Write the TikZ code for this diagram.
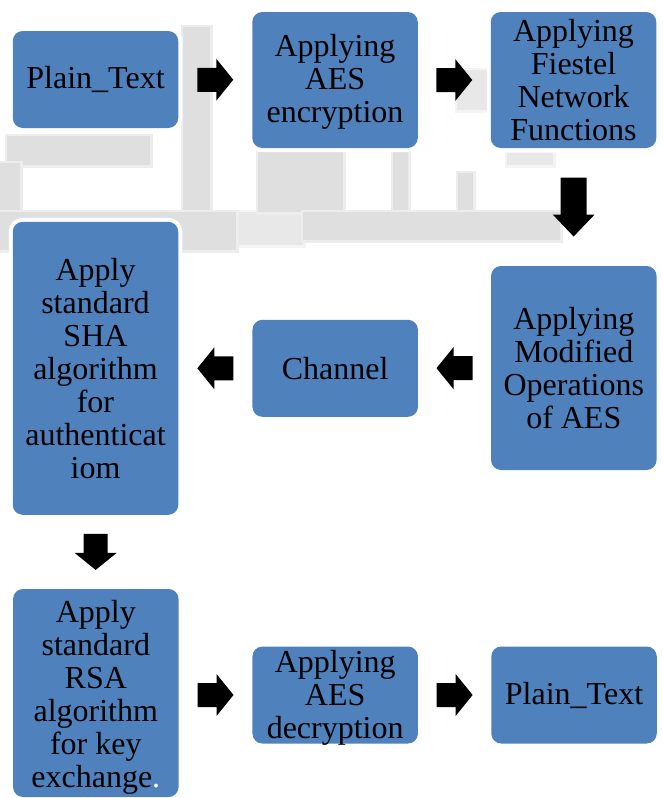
\documentclass[tikz,border=0pt]{standalone}
\usepackage{fontspec}
\setmainfont{Liberation Serif}
\usetikzlibrary{calc}

\definecolor{boxblue}{HTML}{4F81BD}
\definecolor{wmgray}{HTML}{DFDFDF}
\definecolor{wmhalo}{HTML}{EDEDED}
\definecolor{wmlight}{HTML}{E8E8E8}

\tikzset{
  stage/.style={fill=boxblue, rounded corners=10pt, inner sep=0pt,
    preaction={draw=white, line width=8pt}},
  label text/.style={inner sep=0pt, align=center, text=black,
    font=\fontsize{32}{33}\selectfont},
  wm/.style={fill=wmgray, preaction={draw=wmhalo, line width=5pt}},
  wmsoft/.style={fill=wmlight, preaction={draw=wmhalo!60!white, line width=5pt}},
  pics/shortarrow/.style={code={
    \fill[black] (-18,-12) -- (1,-12) -- (1,-21) -- (18,0) -- (1,21)
      -- (1,12) -- (-18,12) -- cycle;}},
  pics/longarrow/.style={code={
    \fill[black] (-29.5,-13) -- (7.5,-13) -- (7.5,-21) -- (29.5,0)
      -- (7.5,21) -- (7.5,13) -- (-29.5,13) -- cycle;}},
}

\begin{document}
\begin{tikzpicture}[x=1pt, y=-1pt]
  \useasboundingbox (0,0) rectangle (663,798);

  % faint watermark lettering behind the flow
  \fill[wmsoft] (457,70) rectangle (490,110);
  \fill[wmsoft] (507,153) rectangle (553,165);
  \fill[wmsoft] (236,212) rectangle (303,245);
  \fill[wm] (183,27) rectangle (210,212);
  \fill[wm] (7,136) rectangle (150,165);
  \fill[wm] (0,163) rectangle (20,250);
  \fill[wm] (0,212) rectangle (236,250);
  \fill[wm] (258,152) rectangle (343,212);
  \fill[wm] (393,152) rectangle (408,212);
  \fill[wm] (458,173) rectangle (473,212);
  \fill[wm] (303,212) rectangle (560,240);

  % process boxes
  \node[stage, minimum width=165.5pt, minimum height=97pt]  (pt1)  at (95.5,79.5)  {};
  \node[stage, minimum width=165.5pt, minimum height=136pt] (enc)  at (335,80)     {};
  \node[stage, minimum width=165.5pt, minimum height=136pt] (fei)  at (573.5,80)   {};
  \node[stage, minimum width=165.5pt, minimum height=204pt] (mod)  at (573.8,368)  {};
  \node[stage, minimum width=165.5pt, minimum height=97pt]  (chan) at (335.2,368.3){};
  \node[stage, minimum width=165.5pt, minimum height=293pt] (sha)  at (95.5,368.3) {};
  \node[stage, minimum width=165.5pt, minimum height=208pt] (rsa)  at (95.8,693)   {};
  \node[stage, minimum width=165.5pt, minimum height=97pt]  (dec)  at (335.2,695)  {};
  \node[stage, minimum width=165.5pt, minimum height=97pt]  (pt2)  at (574,695)    {};

  % box captions
  \node[label text] (pt1-t)  at (pt1)  {Plain\_Text};
  \node[label text, yshift=-2pt] (enc-t)  at (enc)  {Applying\\AES\\encryption};
  \node[label text] (fei-t)  at (fei)  {Applying\\Fiestel\\Network\\Functions};
  \node[label text] (mod-t)  at (mod)  {Applying\\Modified\\Operations\\of AES};
  \node[label text] (chan-t) at (chan) {Channel};
  \node[label text] (sha-t)  at (sha)  {Apply\\standard\\SHA\\algorithm\\for\\authenticat\\iom};
  \node[label text, yshift=-4pt] (rsa-t)  at (rsa)  {Apply\\standard\\RSA\\algorithm\\for key\\exchange\textcolor{white}{.}};
  \node[label text, yshift=-3pt] (dec-t)  at (dec)  {Applying\\AES\\decryption};
  \node[label text] (pt2-t)  at (pt2)  {Plain\_Text};

  % block arrows between consecutive stages
  \pic at ($(pt1.east)!0.5!(enc.west)$) {shortarrow};
  \pic at ($(enc.east)!0.5!(fei.west)$) {shortarrow};
  \pic[rotate=-90] at ($(fei.south)!0.5!(mod.north)$) {longarrow};
  \pic[rotate=180] at ($(mod.west)!0.5!(chan.east)$) {shortarrow};
  \pic[rotate=180] at ($(chan.west)!0.5!(sha.east)$) {shortarrow};
  \pic[rotate=-90] at ($(sha.south)!0.5!(rsa.north)$) {shortarrow};
  \pic at ($(rsa.east |- dec.west)!0.5!(dec.west)$) {shortarrow};
  \pic at ($(dec.east)!0.5!(pt2.west)$) {shortarrow};
\end{tikzpicture}
\end{document}
